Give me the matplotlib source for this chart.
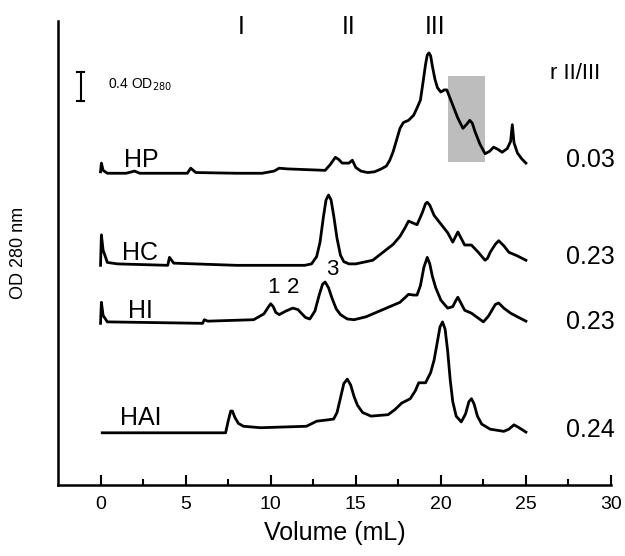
import numpy as np
import matplotlib
matplotlib.use("Agg")
from matplotlib import pyplot as plt
from matplotlib.patches import Rectangle

plt.rcParams['font.family'] = ['Liberation Sans', 'DejaVu Sans']

# elution volume (mL) / absorbance (OD280, traces stacked with offsets)
hp_x = [0.0, 0.05, 0.15, 0.4, 1.5, 2.0, 2.3, 5.1, 5.3, 5.6, 8.0, 9.5, 10.2, 10.5, 11.0,
        13.2, 13.5, 13.8, 14.0, 14.2, 14.6, 14.8, 15.0, 15.3, 15.7, 16.1, 16.5, 16.8, 17.0,
        17.2, 17.4, 17.6, 17.8, 18.1, 18.4, 18.6, 18.8, 18.95, 19.1, 19.2, 19.3, 19.4,
        19.5, 19.65, 19.8, 20.0, 20.2, 20.35, 20.6, 20.8, 21.0, 21.3, 21.5, 21.7, 21.85,
        22.0, 22.3, 22.6, 22.85, 23.1, 23.35, 23.6, 23.9, 24.1, 24.2, 24.3, 24.5, 24.75, 25.0]
hp_y = [4.32, 4.44, 4.34, 4.30, 4.30, 4.33, 4.30, 4.30, 4.37, 4.31, 4.30, 4.30, 4.33, 4.37, 4.36,
        4.34, 4.42, 4.52, 4.49, 4.44, 4.44, 4.48, 4.38, 4.33, 4.31, 4.32, 4.36, 4.40, 4.48,
        4.60, 4.76, 4.92, 5.00, 5.03, 5.10, 5.20, 5.31, 5.55, 5.80, 5.93, 5.96, 5.92,
        5.78, 5.60, 5.48, 5.42, 5.45, 5.45, 5.30, 5.18, 5.06, 4.92, 4.97, 5.03, 4.99,
        4.88, 4.70, 4.57, 4.60, 4.66, 4.63, 4.59, 4.64, 4.74, 4.97, 4.72, 4.58, 4.50, 4.44]

hc_x = [0.0, 0.05, 0.15, 0.4, 1.0, 3.95, 4.05, 4.3, 8.0, 12.0, 12.4, 12.7, 12.9, 13.1, 13.25,
        13.4, 13.55, 13.7, 13.9, 14.1, 14.3, 14.6, 15.0, 16.0, 16.6, 17.2, 17.6, 17.9, 18.1,
        18.4, 18.6, 18.9, 19.1, 19.2, 19.35, 19.6, 19.8, 20.1, 20.4, 20.7, 20.85, 21.0,
        21.2, 21.4, 21.8, 22.2, 22.6, 22.75, 22.9, 23.2, 23.4, 23.7, 24.0, 24.5, 25.0]
hc_y = [3.03, 3.45, 3.24, 3.07, 3.05, 3.03, 3.14, 3.06, 3.03, 3.03, 3.05, 3.15, 3.35, 3.70, 3.93,
        4.00, 3.93, 3.72, 3.40, 3.17, 3.08, 3.05, 3.05, 3.10, 3.21, 3.32, 3.43, 3.55, 3.64,
        3.61, 3.59, 3.75, 3.88, 3.90, 3.86, 3.72, 3.66, 3.57, 3.48, 3.35, 3.42, 3.49,
        3.40, 3.31, 3.31, 3.21, 3.10, 3.13, 3.21, 3.32, 3.37, 3.30, 3.21, 3.16, 3.10]

hi_x = [0.0, 0.05, 0.15, 0.4, 6.0, 6.1, 6.3, 9.0, 9.6, 9.85, 10.0, 10.15, 10.3, 10.5, 10.9,
        11.3, 11.6, 11.8, 12.05, 12.3, 12.6, 12.85, 13.05, 13.2, 13.4, 13.6, 13.85, 14.1,
        14.5, 14.9, 15.6, 16.8, 17.6, 18.1, 18.4, 18.6, 18.8, 19.0, 19.2, 19.35, 19.5,
        19.7, 20.0, 20.4, 20.7, 20.85, 21.0, 21.2, 21.4, 21.8, 22.5, 22.8, 23.0, 23.2, 23.4,
        23.7, 24.1, 24.5, 25.0]
hi_y = [2.23, 2.52, 2.34, 2.25, 2.23, 2.28, 2.26, 2.28, 2.36, 2.45, 2.50, 2.46, 2.38, 2.35, 2.40,
        2.44, 2.42, 2.37, 2.31, 2.29, 2.40, 2.62, 2.77, 2.80, 2.72, 2.58, 2.43, 2.35,
        2.29, 2.28, 2.32, 2.44, 2.52, 2.63, 2.62, 2.62, 2.75, 3.00, 3.14, 3.05, 2.88,
        2.72, 2.55, 2.44, 2.46, 2.53, 2.59, 2.50, 2.41, 2.37, 2.25, 2.33, 2.41, 2.49, 2.51,
        2.44, 2.37, 2.32, 2.26]

hai_x = [0.1, 7.35, 7.5, 7.65, 7.75, 7.9, 8.1, 8.4, 9.4, 12.1, 12.7, 13.4, 13.7, 13.9, 14.1,
         14.3, 14.5, 14.7, 14.9, 15.1, 15.4, 15.9, 16.9, 17.3, 17.7, 18.2, 18.5, 18.7, 19.1,
         19.4, 19.6, 19.8, 19.95, 20.1, 20.25, 20.4, 20.55, 20.7, 20.9, 21.2, 21.45, 21.65,
         21.8, 21.95, 22.15, 22.4, 22.9, 23.7, 24.0, 24.3, 24.6, 25.0]
hai_y = [0.72, 0.72, 0.88, 1.02, 1.02, 0.93, 0.85, 0.81, 0.79, 0.81, 0.88, 0.90, 0.91, 1.00, 1.20,
         1.40, 1.46, 1.38, 1.22, 1.10, 1.00, 0.95, 0.97, 1.04, 1.13, 1.19, 1.30, 1.41, 1.41,
         1.55, 1.72, 1.98, 2.18, 2.25, 2.15, 1.85, 1.45, 1.15, 0.95, 0.87, 0.98, 1.15,
         1.19, 1.12, 0.95, 0.84, 0.77, 0.74, 0.77, 0.83, 0.79, 0.73]

sample_names = ["HP", "HC", "HI", "HAI"]
ratios = ["0.03", "0.23", "0.23", "0.24"]
peak_names = ["I", "II", "III"]
peak_volumes = [8.28, 14.56, 19.67]

fig = plt.figure(figsize=(6.25, 5.56), dpi=100)
ax = fig.add_axes([0.0928, 0.1277, 0.8848, 0.8345])

for x, y in [(hp_x, hp_y), (hc_x, hc_y), (hi_x, hi_y), (hai_x, hai_y)]:
    ax.plot(x, y, color='black', lw=2, solid_joinstyle='round')

# shaded fraction on HP trace
ax.add_patch(Rectangle((20.4, 4.455), 2.2, 1.185, facecolor='#bdbdbd', edgecolor='none', zorder=0))

# sample labels and ratios
label_pos = [(1.35, 4.39), (1.29, 3.10), (1.64, 2.30), (1.17, 0.83)]
ratio_y = [4.48, 3.14, 2.25, 0.76]
for name, (lx, ly), r, ry in zip(sample_names, label_pos, ratios, ratio_y):
    ax.text(lx, ly, name, fontsize=18, ha='left', va='baseline')
    ax.text(28.8, ry, r, fontsize=18, ha='center', va='center')
ax.text(27.9, 5.67, "r II/III", fontsize=16, ha='center', va='center')

for name, v in zip(peak_names, peak_volumes):
    ax.text(v, 6.32, name, fontsize=18, ha='center', va='center')

ax.text(10.16, 2.72, "1", fontsize=16, ha='center', va='center')
ax.text(11.33, 2.72, "2", fontsize=16, ha='center', va='center')
ax.text(13.62, 2.97, "3", fontsize=16, ha='center', va='center')

# scale bar 0.4 OD
ax.plot([-1.17, -1.17], [5.30, 5.70], color='black', lw=1.5)
ax.plot([-1.37, -0.97], [5.30, 5.30], color='black', lw=1.5)
ax.plot([-1.37, -0.97], [5.70, 5.70], color='black', lw=1.5)
ax.text(0.41, 5.52, "0.4 OD$_{280}$", fontsize=10, ha='left', va='center')

ax.set_xlim(-2.5, 30)
ax.set_ylim(0, 6.4)
ax.set_xticks([0, 5, 10, 15, 20, 25, 30])
ax.set_xticks([2.5, 7.5, 12.5, 17.5, 22.5, 27.5], minor=True)
ax.tick_params(axis='x', which='major', direction='in', length=7, width=1.5, labelsize=14, pad=8)
ax.tick_params(axis='x', which='minor', direction='in', length=4, width=1.5)
ax.set_yticks([])
for s in ['top', 'right']:
    ax.spines[s].set_visible(False)
for s in ['left', 'bottom']:
    ax.spines[s].set_linewidth(1.8)

ax.set_xlabel("Volume (mL)", fontsize=18, labelpad=6)
ax.set_ylabel("OD 280 nm", fontsize=13, labelpad=22)

plt.savefig("out.png", dpi=100)
